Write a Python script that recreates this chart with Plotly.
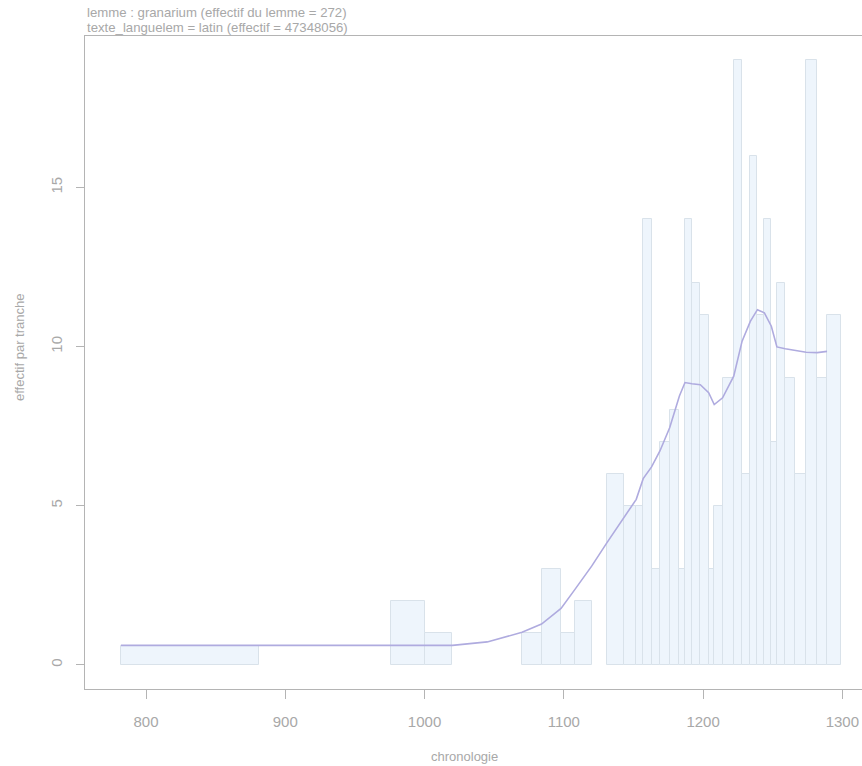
import plotly.graph_objects as go

# Chronological tranches (year boundaries) and counts per tranche
left_edges = [782, 976, 1000, 1070, 1084, 1098, 1108, 1131, 1143, 1152, 1157, 1163,
              1169, 1176, 1183, 1187, 1192, 1198, 1204, 1208, 1214, 1222, 1228, 1234,
              1239, 1244, 1249, 1253, 1259, 1266, 1274, 1282, 1289]
right_edges = [881, 1000, 1020, 1084, 1098, 1108, 1120, 1143, 1152, 1157, 1163, 1169,
               1176, 1183, 1187, 1192, 1198, 1204, 1208, 1214, 1222, 1228, 1234, 1239,
               1244, 1249, 1253, 1259, 1266, 1274, 1282, 1289, 1299]
counts = [0.58, 2, 1, 1, 3, 1, 2, 6, 5, 5, 14, 3,
          7, 8, 3, 14, 12, 11, 3, 5, 9, 19, 6, 16,
          11, 14, 7, 12, 9, 6, 19, 9, 11]

# Smoothed trend
smooth_x = [782, 1020, 1045, 1070, 1084, 1098, 1108, 1120, 1131, 1143, 1152, 1157,
            1163, 1169, 1176, 1183, 1187, 1192, 1198, 1204, 1208, 1214, 1222, 1228,
            1234, 1239, 1244, 1249, 1253, 1259, 1266, 1274, 1282, 1289]
smooth_y = [0.61, 0.61, 0.72, 1.02, 1.28, 1.77, 2.37, 3.1, 3.84, 4.62, 5.2, 5.85,
            6.22, 6.72, 7.45, 8.45, 8.87, 8.83, 8.8, 8.55, 8.18, 8.39, 9.07, 10.17,
            10.8, 11.16, 11.06, 10.64, 9.99, 9.93, 9.88, 9.82, 9.81, 9.85]

x_ticks = [800, 900, 1000, 1100, 1200, 1300]
y_ticks = [0, 5, 10, 15]

title_lines = ["lemme : granarium (effectif du lemme = 272)",
               "texte_languelem = latin (effectif = 47348056)"]
x_title = "chronologie"
y_title = "effectif par tranche"

W, H = 862, 766
ML, MR, MT, MB = 85, 0, 36, 77
PW, PH = W - ML - MR, H - MT - MB

GREY = "#a8a8a8"
AXIS = "#b4b4b4"
FONT = "Liberation Sans, Arial, sans-serif"


def px_x(px):
    return (px - ML) / PW


def px_y(py):
    return (H - MB - py) / PH


mids = [(a + b) / 2 for a, b in zip(left_edges, right_edges)]
widths = [b - a for a, b in zip(left_edges, right_edges)]

fig = go.Figure()
fig.add_trace(go.Bar(
    x=mids, y=counts, width=widths,
    marker=dict(color="#eef5fc", line=dict(color="#d9e2ea", width=1)),
    hoverinfo="skip",
))
fig.add_trace(go.Scatter(
    x=smooth_x, y=smooth_y, mode="lines",
    line=dict(color="#afabdf", width=1.6),
    hoverinfo="skip",
))

annotations = []
for line, py in zip(title_lines, [13, 27]):
    annotations.append(dict(
        text=line, xref="paper", yref="paper", x=px_x(85), y=px_y(py),
        xanchor="left", yanchor="middle", showarrow=False,
        font=dict(family=FONT, size=13.2, color=GREY),
    ))
annotations.append(dict(
    text=x_title, xref="paper", yref="paper", x=px_x(464), y=px_y(756),
    xanchor="center", yanchor="middle", showarrow=False,
    font=dict(family=FONT, size=13, color=GREY),
))
annotations.append(dict(
    text=y_title, xref="paper", yref="paper", x=px_x(20), y=px_y(348),
    xanchor="center", yanchor="middle", showarrow=False, textangle=-90,
    font=dict(family=FONT, size=13, color=GREY),
))

fig.update_layout(
    width=W, height=H,
    margin=dict(l=ML, r=MR, t=MT, b=MB, pad=0),
    paper_bgcolor="white", plot_bgcolor="white",
    showlegend=False, bargap=0,
    annotations=annotations,
    xaxis=dict(
        range=[756.2, 1314.1], tickvals=x_ticks, ticktext=[str(v) for v in x_ticks],
        showgrid=False, zeroline=False, showline=True, mirror=True,
        linecolor=AXIS, linewidth=1, ticks="outside", ticklen=9,
        tickcolor=AXIS, tickwidth=1, ticklabelstandoff=10,
        tickfont=dict(family=FONT, size=15, color=GREY),
    ),
    yaxis=dict(
        range=[-0.76, 19.76], tickvals=y_ticks, ticktext=[str(v) for v in y_ticks],
        showgrid=False, zeroline=False, showline=True, mirror=False,
        linecolor=AXIS, linewidth=1, ticks="outside", ticklen=8,
        tickcolor=AXIS, tickwidth=1, tickangle=-90, ticklabelstandoff=8,
        tickfont=dict(family=FONT, size=15, color=GREY),
    ),
)

fig.write_html("out.html")
